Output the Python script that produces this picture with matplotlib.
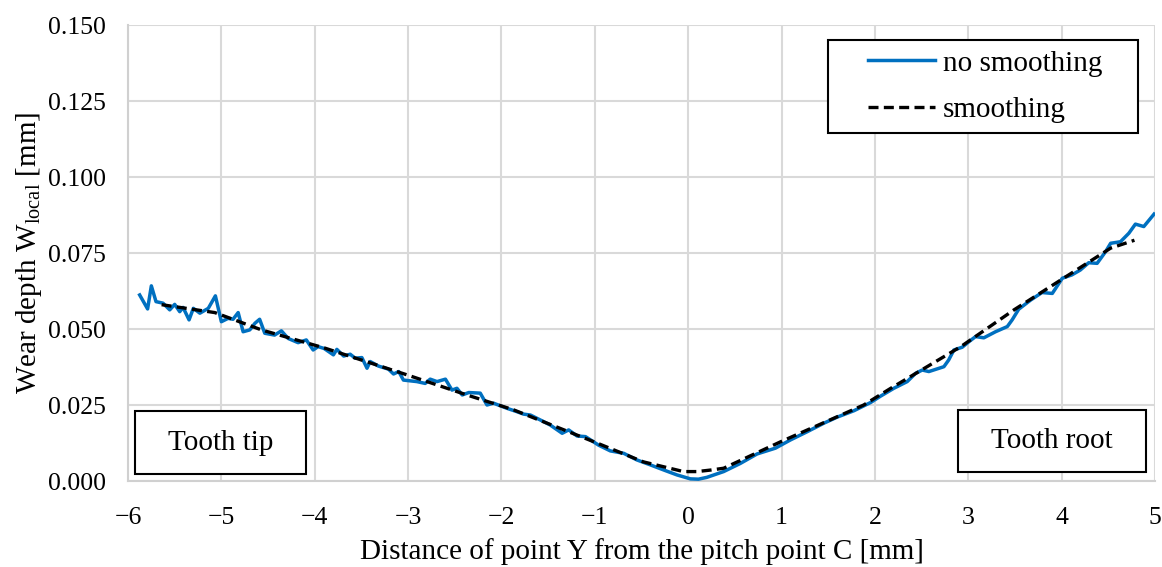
import matplotlib

matplotlib.use("Agg")
import matplotlib.pyplot as plt
from matplotlib.patches import Rectangle

plt.rcParams["font.family"] = ["Liberation Serif", "DejaVu Serif"]
plt.rcParams["mathtext.fontset"] = "custom"
plt.rcParams["mathtext.rm"] = "Liberation Serif"
plt.rcParams["axes.unicode_minus"] = True

# measured wear profile (no smoothing)
raw_x = [-5.875, -5.79, -5.75, -5.70, -5.625, -5.553, -5.50, -5.446, -5.41, -5.346,
         -5.30, -5.23, -5.14, -5.064, -5.00, -4.928, -4.875, -4.82, -4.767, -4.696,
         -4.64, -4.59, -4.535, -4.43, -4.357, -4.285, -4.178, -4.09, -4.017, -3.964,
         -3.90, -3.80, -3.763, -3.69, -3.62, -3.567, -3.495, -3.44, -3.406, -3.317,
         -3.21, -3.156, -3.10, -3.05, -2.906, -2.817, -2.763, -2.69, -2.60, -2.53,
         -2.477, -2.42, -2.35, -2.227, -2.155, -2.085, -1.94, -1.834, -1.763, -1.69,
         -1.566, -1.477, -1.35, -1.28, -1.19, -1.10, -0.96, -0.834, -0.69, -0.547,
         -0.405, -0.26, -0.12, 0.024, 0.11, 0.20, 0.38, 0.56, 0.738, 0.934,
         1.095, 1.274, 1.452, 1.595, 1.774, 1.953, 2.06, 2.203, 2.346, 2.435,
         2.507, 2.578, 2.739, 2.79, 2.846, 2.935, 3.006, 3.078, 3.167, 3.292,
         3.418, 3.47, 3.54, 3.667, 3.79, 3.90, 4.007, 4.11, 4.20, 4.29,
         4.38, 4.47, 4.525, 4.63, 4.72, 4.79, 4.88, 4.99]
raw_y = [0.0612, 0.0566, 0.0642, 0.0590, 0.0585, 0.0563, 0.0581, 0.0557, 0.0571, 0.0530,
         0.0568, 0.0552, 0.0568, 0.0609, 0.0524, 0.0535, 0.0532, 0.0554, 0.0491, 0.0497,
         0.0519, 0.0532, 0.0486, 0.0480, 0.0494, 0.0469, 0.0455, 0.0464, 0.0431, 0.0442,
         0.0436, 0.0415, 0.0433, 0.0411, 0.0417, 0.0404, 0.0406, 0.0371, 0.0393, 0.0378,
         0.0368, 0.0352, 0.0360, 0.0332, 0.0327, 0.0321, 0.0335, 0.0327, 0.0335, 0.0299,
         0.0305, 0.0283, 0.0291, 0.0289, 0.0250, 0.0256, 0.0239, 0.0228, 0.0220, 0.0217,
         0.0198, 0.0184, 0.0157, 0.0168, 0.0148, 0.0146, 0.0118, 0.0099, 0.0091, 0.0069,
         0.0053, 0.0036, 0.0020, 0.0007, 0.0006, 0.0012, 0.0031, 0.0058, 0.0089, 0.0108,
         0.0135, 0.0162, 0.0190, 0.0210, 0.0231, 0.0258, 0.0279, 0.0305, 0.0327, 0.0354,
         0.0365, 0.0360, 0.0376, 0.0398, 0.0431, 0.0440, 0.0458, 0.0475, 0.0471, 0.0491,
         0.0508, 0.0530, 0.0565, 0.0595, 0.0620, 0.0617, 0.0667, 0.0678, 0.0694, 0.0718,
         0.0716, 0.0754, 0.0782, 0.0787, 0.0815, 0.0845, 0.0837, 0.0878]

# smoothed profile
smooth_x = [-5.64, -5.07, -4.57, -3.89, -3.01, -2.37, -1.87, -1.01, -0.48, -0.05,
            0.095, 0.24, 0.38, 0.99, 1.88, 2.17, 2.92, 3.49, 4.525, 4.78]
smooth_y = [0.0580, 0.0554, 0.0497, 0.0437, 0.0349, 0.0283, 0.0234, 0.0129, 0.0063, 0.0031,
            0.0031, 0.0036, 0.0042, 0.0129, 0.0250, 0.0305, 0.0442, 0.0563, 0.0766, 0.0792]

x_ticks = list(range(-6, 6))
y_ticks = [0.0, 0.025, 0.05, 0.075, 0.1, 0.125, 0.15]

W, H = 1162, 567
L, R, T, B = 128, 1155, 25, 481
fig = plt.figure(figsize=(W / 100, H / 100), dpi=100, facecolor="white")
ax = fig.add_axes([L / W, 1 - B / H, (R - L) / W, (B - T) / H])


def px_box(px0, px1, py0, py1):
    # pixel rectangle -> axes-fraction (x0, y0, w, h)
    return ((px0 - L) / (R - L), (B - py1) / (B - T),
            (px1 - px0) / (R - L), (py1 - py0) / (B - T))


ax.plot(raw_x, raw_y, color="#0070C0", lw=2.5, solid_joinstyle="round",
        label="no smoothing", zorder=3)
ax.plot(smooth_x, smooth_y, color="black", lw=2.4, ls=(0, (3, 1.6)),
        label="smoothing", zorder=4)

ax.set_xlim(-6, 5)
ax.set_ylim(0, 0.15)
ax.set_xticks(x_ticks)
ax.set_yticks(y_ticks)
ax.set_yticklabels([f"{v:.3f}" for v in y_ticks])
ax.grid(True, color="#d9d9d9", lw=1.5)
ax.set_axisbelow(True)
ax.tick_params(length=0, labelsize=18.5)
ax.tick_params(axis="x", pad=19)
ax.tick_params(axis="y", pad=16)
for s in ["top", "right"]:
    ax.spines[s].set_visible(False)
for s in ["left", "bottom"]:
    ax.spines[s].set_color("#d0d0d0")
    ax.spines[s].set_linewidth(1.5)

ax.set_xlabel("Distance of point Y from the pitch point C [mm]", fontsize=21, labelpad=6)
ax.set_ylabel(r"Wear depth W$_{\mathrm{local}}$ [mm]", fontsize=21, labelpad=3)

# legend frame drawn separately, entries centred inside it
lx0, ly0, lw_, lh = px_box(828, 1138, 40, 133)
ax.add_patch(Rectangle((lx0, ly0), lw_, lh, transform=ax.transAxes, facecolor="white",
                       edgecolor="black", lw=1.5, zorder=5))
leg = ax.legend(loc="center", bbox_to_anchor=(lx0 + lw_ / 2 + 0.002, ly0 + lh / 2),
                fontsize=21, frameon=False, handlelength=2.3, handletextpad=0.25,
                labelspacing=0.68, borderpad=0)
leg.set_zorder(6)

boxes = [("Tooth tip", 135, 306, 411, 474), ("Tooth root", 958, 1146, 410, 472)]
for label, px0, px1, py0, py1 in boxes:
    x0, y0, w, h = px_box(px0, px1, py0, py1)
    ax.add_patch(Rectangle((x0, y0), w, h, transform=ax.transAxes, facecolor="white",
                           edgecolor="black", lw=1.5, zorder=5))
    ax.text(x0 + w / 2, y0 + h / 2, label, transform=ax.transAxes, ha="center",
            va="center", fontsize=21, zorder=6)

fig.savefig("out.png", dpi=100, facecolor="white")
